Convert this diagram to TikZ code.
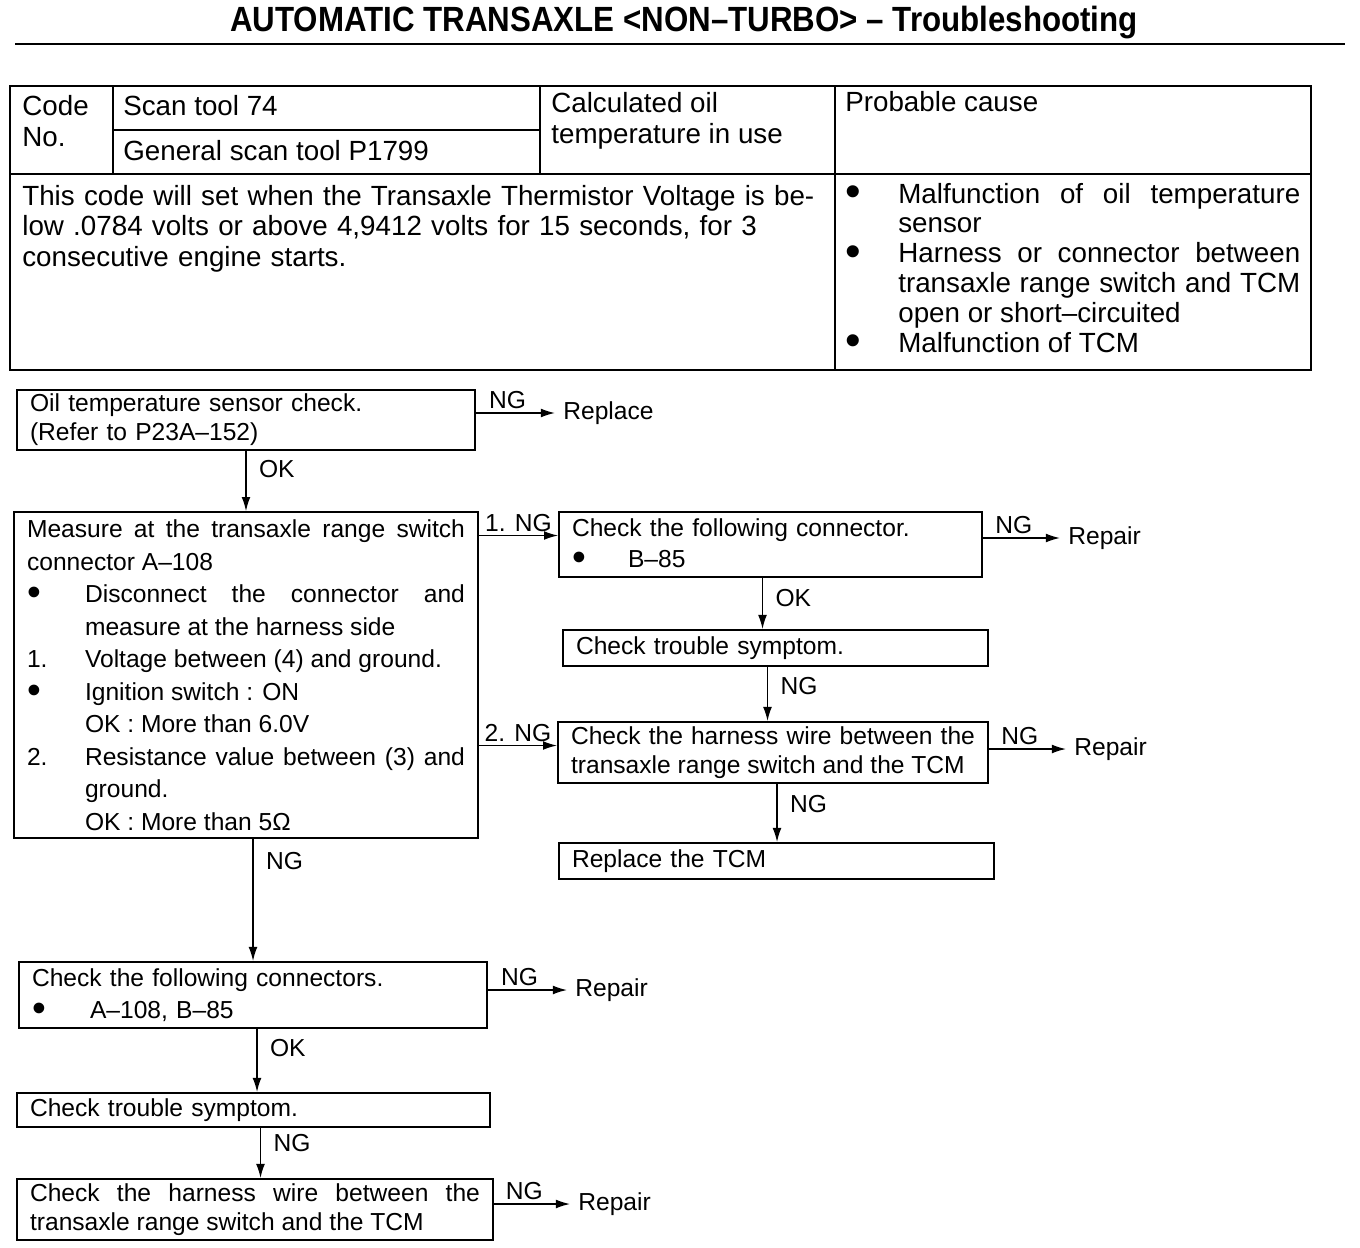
\documentclass[tikz,border=0pt]{standalone}
\usepackage{graphicx,tikz}
\usepackage{fontspec}
\setmainfont{Liberation Sans}
\usetikzlibrary{arrows.meta,calc}

\newcommand{\dotb}{\raisebox{-0.12em}{\scalebox{1.6}{\textbullet}}}
\newcommand{\fitem}[3]{\hangindent=#1\hangafter=1\makebox[#1][l]{#2}#3\par}

\begin{document}
\begin{tikzpicture}[x=0.02cm,y=0.02cm,
	tbl/.style={line width=1.2pt},
	cell/.style={anchor=base west,inner sep=0pt,font={\fontsize{15.8}{17.6}\selectfont}},
	box/.style={draw,line width=1.1pt,inner xsep=0.26cm,inner ysep=1pt,font={\fontsize{14}{16.5}\selectfont}},
	dest/.style={anchor=west,inner xsep=0.16cm,inner ysep=0pt,font={\fontsize{14}{16}\selectfont}},
	lbl/.style={inner sep=2pt,font={\fontsize{14}{16}\selectfont}},
	dlbl/.style={lbl,right=5pt},
	arr/.style={line width=0.8pt,-{Latex[length=8pt,width=5pt]}}]
			\useasboundingbox (0,0) rectangle (1360,-1248);
			\node[font={\bfseries\fontsize{17.8}{20}\selectfont},inner sep=0pt,anchor=base] (title) at (684,-31) {\scalebox{1}[1.12]{AUTOMATIC TRANSAXLE <NON–TURBO> – Troubleshooting}};
			\draw[line width=1.2pt] (15,-44) -- (1345,-44);
			% table
			\draw[tbl] (10,-86) rectangle (1311,-370);
			\draw[tbl] (10,-174) -- (1311,-174);
			\draw[tbl] (113,-86) -- (113,-174);
			\draw[tbl] (113,-130) -- (540,-130);
			\draw[tbl] (540,-86) -- (540,-174);
			\draw[tbl] (835,-86) -- (835,-370);
			\node[cell] (code) at (22,-115) {Code};
			\node[cell] (no) at (22,-146) {No.};
			\node[cell] (scan) at (123,-115) {Scan tool 74};
			\node[cell] (gscan) at (123,-160) {General scan tool P1799};
			\node[cell] (oiltemp) at (551,-112) {Calculated oil};
			\node[cell] (inuse) at (551,-143) {temperature in use};
			\node[cell] (prob) at (845,-111) {Probable cause};
			\node[cell,text width=16.2cm,align=left] (desc) at (22,-205) {This code will set when the Transaxle Thermistor Voltage is be-\\low .0784 volts or above 4,9412 volts for 15 seconds, for 3\\consecutive engine starts.};
			\node[cell,text width=9.1cm,align=justify,font={\fontsize{15.8}{17}\selectfont}] (cause) at (845,-203) {\fitem{1.06cm}{\dotb}{Malfunction of oil temperature\linebreak sensor}\fitem{1.06cm}{\dotb}{Harness or connector between\linebreak transaxle range switch and TCM\linebreak open or short–circuited}\fitem{1.06cm}{\dotb}{Malfunction of TCM}};
			% flow chart
			\node[box,text width=8.64cm,minimum height=1.2cm,align=left] (oil) at (246,-420) {Oil temperature sensor check.\\(Refer to P23A–152)};
			\node[box,text width=8.76cm,minimum height=6.52cm,align=justify,font={\fontsize{14}{18.5}\selectfont}] (meas) at (246,-675) {Measure at the transaxle range switch\linebreak connector A–108\par
				\fitem{1.16cm}{\dotb}{Disconnect the connector and\linebreak measure at the harness side}
				\fitem{1.16cm}{1.}{Voltage between (4) and ground.}
				\fitem{1.16cm}{\dotb}{Ignition switch : ON}
				\fitem{1.16cm}{}{OK : More than 6.0V}
				\fitem{1.16cm}{2.}{Resistance value between (3) and\linebreak ground.}
				\fitem{1.16cm}{}{OK : More than 5Ω}};
			\node[box,text width=7.94cm,minimum height=1.3cm,align=left,font={\fontsize{14}{18}\selectfont}] (conn) at (770.5,-544.5) {Check the following connector.\\\makebox[1.12cm][l]{\dotb}B–85};
			\node[box,text width=7.98cm,minimum height=0.72cm,align=left] (sym) at (775.5,-648) {Check trouble symptom.};
			\node[box,text width=8.08cm,minimum height=1.22cm,align=justify] (wire) at (773,-752.5) {Check the harness wire between the\linebreak transaxle range switch and the TCM};
			\node[box,text width=8.18cm,minimum height=0.72cm,align=left] (tcm) at (776.5,-861) {Replace the TCM};
			\node[box,text width=8.84cm,minimum height=1.32cm,align=left,font={\fontsize{14}{18}\selectfont}] (conns) at (253,-995) {Check the following connectors.\\\makebox[1.16cm][l]{\dotb}A–108, B–85};
			\node[box,text width=8.94cm,minimum height=0.68cm,align=left] (sym2) at (253.5,-1110) {Check trouble symptom.};
			\node[box,text width=9cm,minimum height=1.22cm,align=justify] (wire2) at (255,-1209.5) {Check the harness wire between the\linebreak transaxle range switch and the TCM};
			\node[dest] (rp1) at (555,-413) {Replace};
			\node[dest] (rp2) at (1060,-538) {Repair};
			\node[dest] (rp3) at (1066,-749) {Repair};
			\node[dest] (rp4) at (567,-990) {Repair};
			\node[dest] (rp5) at (570,-1204) {Repair};
			\draw[arr] (oil.east |- rp1.west) -- node[lbl,above,pos=0.4] {NG} (rp1.west);
			\draw[arr] (oil.south) -- node[dlbl,pos=0.3] {OK} (oil.south |- meas.north);
			\draw[arr] ($(meas.east |- conn.west)+(0,9)$) -- node[lbl,above] {1. NG} ($(conn.west)+(0,9)$);
			\draw[arr] ($(meas.east |- wire.west)+(0,7)$) -- node[lbl,above] {2. NG} ($(wire.west)+(0,7)$);
			\draw[arr] (meas.south -| conns.north) -- node[dlbl,pos=0.18] {NG} (conns.north);
			\draw[arr] (conn.east |- rp2.west) -- node[lbl,above,pos=0.4] {NG} (rp2.west);
			\draw[arr] ($(conn.south)+(-8,0)$) -- node[dlbl,pos=0.4] {OK} ($(conn.south |- sym.north)+(-8,0)$);
			\draw[arr] ($(sym.south)+(-8,0)$) -- node[dlbl,pos=0.35] {NG} ($(sym.south |- wire.north)+(-8,0)$);
			\draw[arr] (wire.east |- rp3.west) -- node[lbl,above,pos=0.4] {NG} (rp3.west);
			\draw[arr] ($(wire.south)+(4,0)$) -- node[dlbl,pos=0.35] {NG} ($(wire.south |- tcm.north)+(4,0)$);
			\draw[arr] (conns.east |- rp4.west) -- node[lbl,above,pos=0.4] {NG} (rp4.west);
			\draw[arr] ($(conns.south)+(4,0)$) -- node[dlbl,pos=0.3] {OK} ($(conns.south |- sym2.north)+(4,0)$);
			\draw[arr] ($(sym2.south)+(7,0)$) -- node[dlbl,pos=0.3] {NG} ($(sym2.south |- wire2.north)+(7,0)$);
			\draw[arr] (wire2.east |- rp5.west) -- node[lbl,above,pos=0.4] {NG} (rp5.west);
\end{tikzpicture}
\end{document}
